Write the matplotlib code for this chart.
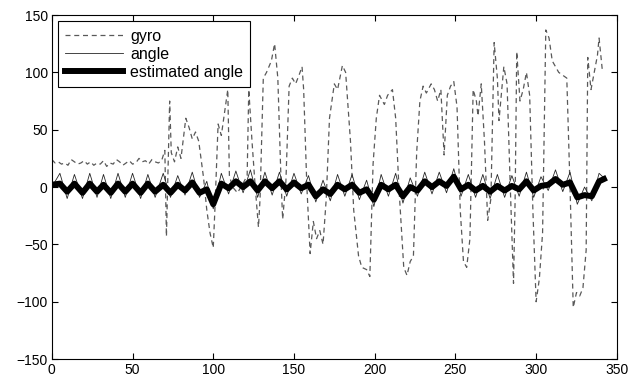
import matplotlib
matplotlib.use('Agg')
import matplotlib.pyplot as plt

plt.rcParams['font.family'] = ['Liberation Sans', 'DejaVu Sans']

# gyro (vertices)
gyro_x = [0, 2, 4, 6, 8, 10, 12, 14, 16, 18, 20, 22, 24, 26, 28, 30, 32, 34, 36, 38,
          40, 42, 44, 46, 48, 50, 52, 54, 56, 58, 60, 62, 64, 66, 68, 70,
          71, 73, 74, 76, 78, 80, 83, 85, 87, 89, 91, 94, 96, 98, 100, 101, 103, 105, 107,
          109, 110, 112, 115, 118, 121, 122, 124, 126, 128, 129, 131, 133, 136, 138, 140,
          142, 143, 145, 147, 149, 151, 153, 155, 156, 158, 160, 162, 164, 166, 168, 170,
          172, 175, 177, 180, 182, 185, 187, 190, 192, 195, 197, 199, 201, 203, 206, 208,
          211, 213, 215, 218, 220, 222, 224, 226, 228, 230, 232, 235, 237, 239, 241, 243,
          245, 247, 249, 251, 253, 255, 257, 259, 261, 263, 264, 266, 268, 270, 272, 274,
          276, 277, 280, 282, 284, 286, 287, 288, 290, 292, 294, 296, 298, 300, 302, 304,
          306, 308, 310, 312, 314, 317, 319, 321, 323, 325, 327, 329, 331, 332, 334, 336,
          338, 339, 341]
gyro_y = [24, 21, 22, 20, 21, 19, 24, 22, 20, 21, 23, 20, 22, 19, 21, 20, 23, 18, 21, 20,
          24, 22, 19, 21, 23, 20, 21, 25, 22, 23, 20, 24, 22, 21, 23, 32,
          -43, 75, 30, 22, 35, 25, 60, 52, 42, 48, 40, 8, -20, -40, -53, -20, 55, 45, 65,
          85, 10, 0, -5, 2, 10, 85, 40, 0, -35, -10, 95, 100, 110, 125, 95,
          5, -28, 5, 88, 95, 90, 97, 105, 85, 0, -58, -30, -45, -38, -50, -10,
          60, 90, 85, 106, 100, 40, -20, -60, -70, -72, -78, 20, 60, 80, 72, 80,
          85, 60, 0, -70, -77, -65, -60, 30, 75, 88, 82, 90, 85, 75, 85, 28,
          80, 88, 92, 70, -20, -65, -70, -45, 85, 75, 62, 90, 40, -29, -10, 126,
          95, 58, 105, 90, 0, -84, -10, 118, 75, 85, 100, 80, -20, -100, -80, -40,
          137, 130, 110, 105, 100, 97, 95, 0, -105, -92, -95, -88, -55, 113, 85, 100,
          115, 130, 102]

# angle and estimated angle (peaks / troughs)
ang_x = [0, 5, 9.5, 14, 19, 23.5, 28, 32, 36.5, 41, 45.5, 50, 55, 59.5, 64, 69, 73.5,
         78, 82.5, 87, 91.5, 96, 100, 105, 109.5, 114, 118.5, 123, 127.5, 132, 136.5,
         141, 145.5, 150, 154.5, 159, 163.5, 168, 172.5, 177, 181.5, 186, 190.5, 195,
         199.5, 204, 208.5, 213, 217.5, 222, 226.5, 231, 235.5, 240, 244.5, 249, 253.5,
         258, 262.5, 267, 271.5, 276, 280.5, 285, 289.5, 294, 298.5, 303, 307.5, 312,
         316.5, 321, 325.5, 330, 334.5, 339, 342]
ang_y = [0, 12, -10, 11, -10, 12, -9, 11, -10, 12, -9, 12, -10, 11, -9, 12, -9,
         10, -7, 13, -9, 5, -19, 12, -6, 14, -5, 15, -9, 13, -7,
         13, -8, 12, -6, 10, -13, 6, -12, 11, -8, 11, -11, 6,
         -17, 11, -8, 12, -14, 8, -8, 13, -6, 13, -5, 16, -8,
         11, -9, 11, -10, 11, -9, 10, -8, 13, -9, 9, -3, 15,
         -4, 13, -15, 0, -12, 12, 8]
est_y = [2, 3, -4, 3, -5, 3, -4, 2, -5, 3, -4, 3, -5, 3, -4, 2, -5,
         2, -3, 4, -5, -2, -15, 3, -1, 5, 0, 5, -3, 5, -1,
         5, -2, 4, -1, 2, -8, -2, -6, 2, -2, 2, -5, -2,
         -11, 2, -2, 2, -8, 0, -3, 5, 0, 5, 1, 9, -2,
         2, -3, 1, -4, 1, -3, 1, -2, 5, -3, 1, 2, 7,
         2, 4, -9, -7, -8, 5, 7]

fig = plt.figure(figsize=(6.32, 3.76), dpi=100)
ax = fig.add_axes([0.082, 0.045, 0.894, 0.915])

ax.plot(gyro_x, gyro_y, color='0.35', lw=0.9, dashes=(4, 3), label='gyro')
ax.plot(ang_x, ang_y, color='0.15', lw=0.6, label='angle')
ax.plot(ang_x, est_y, color='k', lw=4.3, solid_joinstyle='round', label='estimated angle')

ax.set_xlim(0, 350)
ax.set_ylim(-150, 150)
ax.set_xticks(range(0, 351, 50))
ax.set_yticks(range(-150, 151, 50))
ax.tick_params(direction='in', top=True, right=True, labelsize=10, length=4, width=0.8,
               pad=3)
for s in ax.spines.values():
    s.set_linewidth(0.8)

leg = ax.legend(loc='upper left', fontsize=11.5, frameon=True, fancybox=False,
                edgecolor='k', framealpha=1, handlelength=3.6, borderaxespad=0.4,
                labelspacing=0.2, borderpad=0.45, handletextpad=0.45)
leg.get_frame().set_linewidth(0.8)

plt.savefig('out.png', dpi=100)
